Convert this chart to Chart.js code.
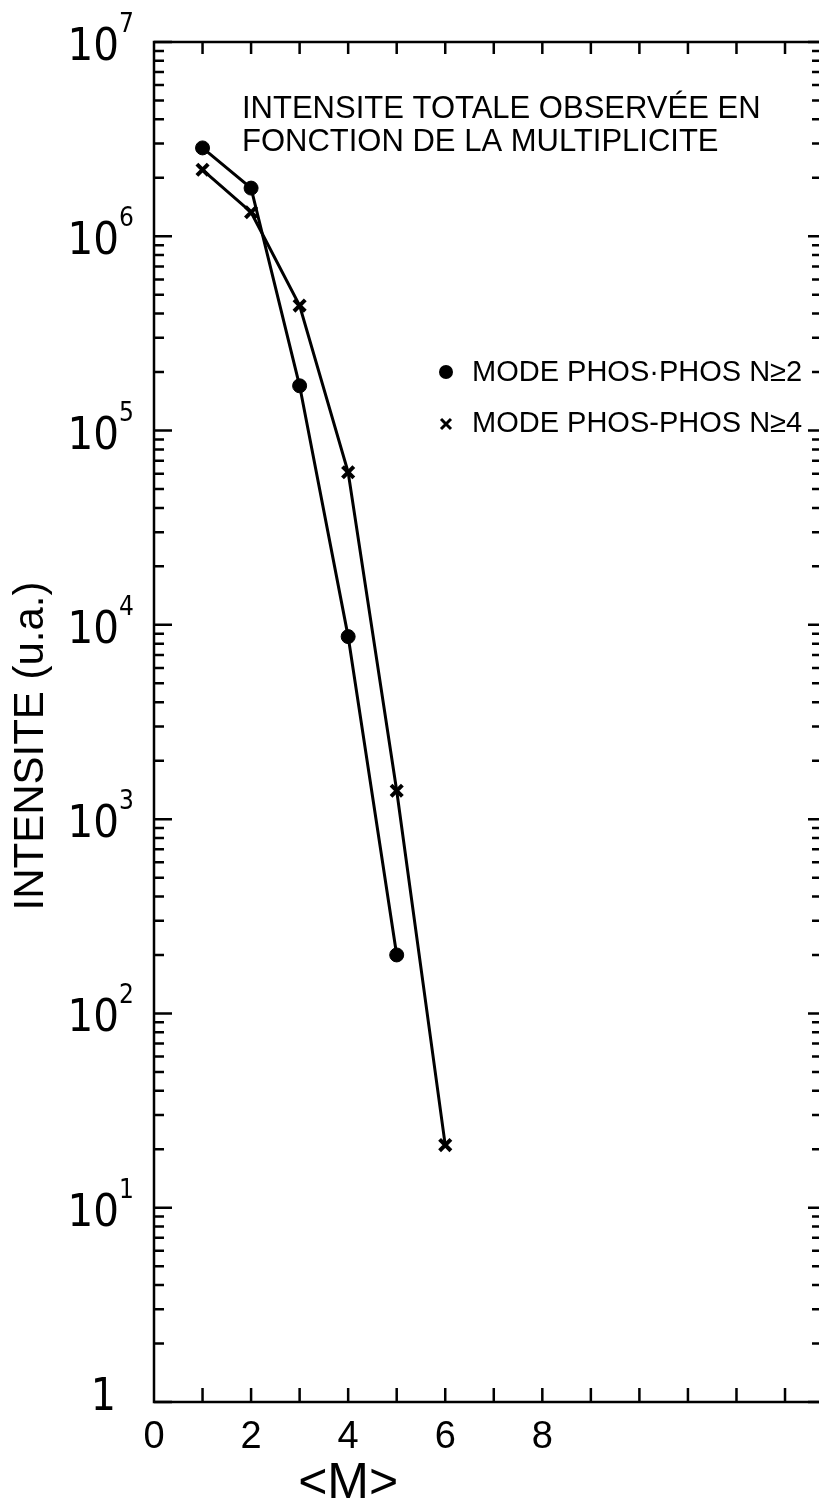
<!DOCTYPE html>
<html>
<head>
<meta charset="utf-8">
<title>Intensite totale en fonction de la multiplicite</title>
<script src="https://cdn.jsdelivr.net/npm/chart.js@4.4.0/dist/chart.umd.min.js"></script>
<style>
  html, body { margin: 0; padding: 0; background: #fff; overflow: hidden; }
  #wrap { position: relative; width: 819px; height: 1512px; }
</style>
</head>
<body>
<div id="wrap"><canvas id="intensityChart" width="819" height="1512"></canvas></div>
<script>
// values
const multN2 = [1, 2, 3, 4, 5];
const intensN2 = [2.85e6, 1.77e6, 1.7e5, 8.7e3, 200];
const multN4 = [1, 2, 3, 4, 5, 6];
const intensN4 = [2.2e6, 1.33e6, 4.4e5, 6.1e4, 1.4e3, 21];

const seriesLabels = ['MODE PHOS·PHOS N≥2', 'MODE PHOS-PHOS N≥4'];
const titleLines = ['INTENSITE TOTALE OBSERVÉE EN', 'FONCTION DE LA MULTIPLICITE'];
const decadeTicks = [1, 10, 100, 1e3, 1e4, 1e5, 1e6, 1e7];
const xLabelTicks = [0, 2, 4, 6, 8];
const xTitle = '<M>';
const yTitle = 'INTENSITE (u.a.)';

const FONT = "'Liberation Sans', Arial, sans-serif";
const NARROW = "'Liberation Sans Narrow', 'DejaVu Sans Condensed', 'Liberation Sans', sans-serif";

function toPoints(xs, ys) {
  return xs.map((x, i) => ({ x: x, y: ys[i] }));
}

function drawMarker(ctx, style, px, py, r, lw) {
  ctx.beginPath();
  if (style === 'circle') {
    ctx.arc(px, py, r, 0, Math.PI * 2);
    ctx.fill();
  } else {
    ctx.lineWidth = lw;
    ctx.moveTo(px - r, py - r); ctx.lineTo(px + r, py + r);
    ctx.moveTo(px + r, py - r); ctx.lineTo(px - r, py + r);
    ctx.stroke();
  }
}

// frame, inward ticks, decade labels, in-plot title, legend and axis titles
const framePlugin = {
  id: 'frame',
  afterDraw(chart) {
    const ctx = chart.ctx;
    const a = chart.chartArea;
    const xs = chart.scales.x;
    const ys = chart.scales.y;
    ctx.save();
    ctx.strokeStyle = '#000';
    ctx.fillStyle = '#000';
    ctx.lineWidth = 2.5;
    ctx.lineCap = 'butt';

    ctx.beginPath();
    ctx.moveTo(a.right + 2, a.top);
    ctx.lineTo(a.left, a.top);
    ctx.lineTo(a.left, a.bottom);
    ctx.lineTo(a.right + 2, a.bottom);
    ctx.stroke();

    // x ticks top and bottom
    for (let i = 1; i < 20; i++) {
      let px = xs.getPixelForValue(i);
      if (px > a.right - 3) break;
      ctx.beginPath();
      ctx.moveTo(px, a.top); ctx.lineTo(px, a.top + 12);
      ctx.moveTo(px, a.bottom); ctx.lineTo(px, a.bottom - 14);
      ctx.stroke();
    }

    // y ticks left and right
    decadeTicks.forEach(d => {
      for (let k = 1; k <= 9; k++) {
        let v = d * k;
        if (v > ys.max) break;
        let py = ys.getPixelForValue(v);
        let major = k === 1;
        ctx.beginPath();
        ctx.moveTo(a.left, py); ctx.lineTo(a.left + (major ? 18 : 10), py);
        ctx.moveTo(a.right, py); ctx.lineTo(a.right - (major ? 11 : 7), py);
        ctx.stroke();
      }
    });

    // decade labels 10^n with a raised exponent
    ctx.textBaseline = 'alphabetic';
    decadeTicks.forEach(d => {
      let e = Math.round(Math.log10(d));
      let py = ys.getPixelForValue(d);
      if (e === 0) {
        ctx.font = '44px ' + NARROW;
        ctx.textAlign = 'right';
        ctx.fillText('1', 116, py + 8);
        return;
      }
      ctx.font = '45px ' + NARROW;
      ctx.textAlign = 'right';
      ctx.fillText('10', 119, py + 18);
      ctx.font = '26px ' + NARROW;
      ctx.textAlign = 'left';
      ctx.fillText(String(e), 119, py - 10);
    });

    // title inside the plot
    ctx.font = '31px ' + FONT;
    ctx.textAlign = 'left';
    ctx.fillText(titleLines[0], 242, 118);
    ctx.fillText(titleLines[1], 242, 151);

    // legend
    const legendY = [372, 423];
    chart.data.datasets.forEach((ds, i) => {
      let my = legendY[i];
      if (ds.pointStyle === 'circle') {
        drawMarker(ctx, 'circle', 446, my, 7, 0);
      } else {
        drawMarker(ctx, 'cross', 446, my + 1, 5, 3);
      }
      ctx.font = '29px ' + FONT;
      ctx.textAlign = 'left';
      ctx.textBaseline = 'middle';
      ctx.fillText(ds.label, 472, my + 1);
    });

    // axis titles
    ctx.textAlign = 'center';
    ctx.textBaseline = 'middle';
    ctx.font = '42px ' + FONT;
    ctx.save();
    ctx.translate(31, 746);
    ctx.rotate(-Math.PI / 2);
    ctx.fillText(yTitle, 0, 0);
    ctx.restore();

    ctx.font = '50px ' + FONT;
    ctx.textBaseline = 'alphabetic';
    ctx.fillText(xTitle, xs.getPixelForValue(4), 1498);
    ctx.restore();
  }
};

const ctx = document.getElementById('intensityChart').getContext('2d');

const intensityChart = new Chart(ctx, {
  type: 'line',
  data: {
    datasets: [
      {
        label: seriesLabels[0],
        data: toPoints(multN2, intensN2),
        borderColor: '#000',
        backgroundColor: '#000',
        borderWidth: 3,
        pointStyle: 'circle',
        pointRadius: 7,
        pointBorderWidth: 1,
        pointBackgroundColor: '#000',
        pointBorderColor: '#000',
        tension: 0
      },
      {
        label: seriesLabels[1],
        data: toPoints(multN4, intensN4),
        borderColor: '#000',
        backgroundColor: '#000',
        borderWidth: 3,
        pointStyle: 'crossRot',
        pointRadius: 8,
        pointBorderWidth: 4,
        pointBorderColor: '#000',
        tension: 0
      }
    ]
  },
  options: {
    responsive: false,
    animation: false,
    devicePixelRatio: 1,
    layout: { autoPadding: false, padding: { top: 42, left: 0, right: 0, bottom: 0 } },
    plugins: {
      legend: { display: false },
      tooltip: { enabled: false }
    },
    scales: {
      x: {
        type: 'linear',
        min: 0,
        max: 13.7,
        grid: { display: false, drawTicks: false },
        border: { display: false },
        ticks: {
          stepSize: 1,
          autoSkip: false,
          maxRotation: 0,
          padding: 13,
          color: '#000',
          font: { family: FONT, size: 38 },
          callback: v => xLabelTicks.includes(v) ? String(v) : ''
        },
        // tick padding is otherwise reserved at the right edge
        afterFit: s => { s.height = 110; s.paddingRight = 0; }
      },
      y: {
        type: 'logarithmic',
        min: 1,
        max: 1e7,
        grid: { display: false, drawTicks: false },
        border: { display: false },
        afterBuildTicks: s => { s.ticks = decadeTicks.map(v => ({ value: v })); },
        ticks: { display: false },
        afterFit: s => { s.width = 154; }
      }
    }
  },
  plugins: [framePlugin]
});
</script>
</body>
</html>
